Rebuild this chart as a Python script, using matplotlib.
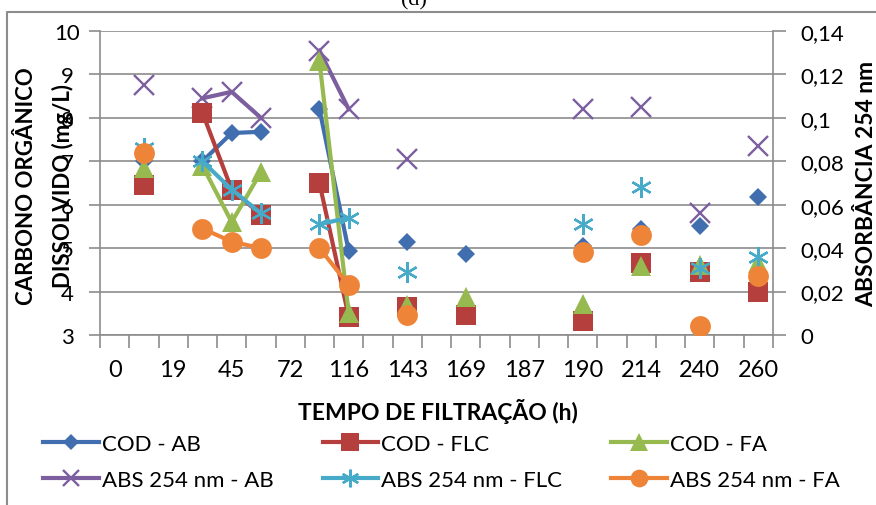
import numpy as np
import matplotlib.pyplot as plt
from matplotlib.lines import Line2D

nan = np.nan

# 23 categories on the x axis, Excel shows a label on every second one
tick_labels = ['0', '19', '45', '72', '116', '143', '169', '187', '190', '214', '240', '260']

cod_ab = [nan, 7.0, nan, 7.0, 7.65, 7.68, nan, 8.2, 4.93, nan, 5.13, nan, 4.86,
          nan, nan, nan, 5.05, nan, 5.44, nan, 5.5, nan, 6.17]
cod_flc = [nan, 6.45, nan, 8.12, 6.35, 5.77, nan, 6.5, 3.42, nan, 3.65, nan, 3.45,
           nan, nan, nan, 3.33, nan, 4.65, nan, 4.45, nan, 4.0]
cod_fa = [nan, 6.85, nan, 6.9, 5.6, 6.75, nan, 9.3, 3.5, nan, 3.7, nan, 3.88,
          nan, nan, nan, 3.72, nan, 4.6, nan, 4.62, nan, 4.65]
abs_ab = [nan, 0.115, nan, 0.109, 0.112, 0.100, nan, 0.131, 0.104, nan, 0.081, nan, nan,
          nan, nan, nan, 0.104, nan, 0.105, nan, 0.056, nan, 0.087]
abs_flc = [nan, 0.086, nan, 0.080, 0.067, 0.056, nan, 0.051, 0.054, nan, 0.029, nan, nan,
           nan, nan, nan, 0.051, nan, 0.068, nan, 0.031, nan, 0.036]
abs_fa = [nan, 0.084, nan, 0.049, 0.043, 0.040, nan, 0.040, 0.023, nan, 0.009, nan, nan,
          nan, nan, nan, 0.038, nan, 0.046, nan, 0.004, nan, 0.027]

plt.rcParams['font.family'] = ['Lato', 'DejaVu Sans']

W, H = 876, 506
gray = '#8C8C8C'

fig = plt.figure(figsize=(W / 100, H / 100), dpi=100)
ax = fig.add_axes([100 / W, 1 - 336 / H, 673 / W, 304 / H])
ax2 = ax.twinx()

x = np.arange(1, len(cod_ab) + 1)
ax.set_xlim(0.5, len(x) + 0.5)
ax.set_ylim(3, 10)
ax2.set_ylim(0, 0.14)

blue, red, green = '#416EAF', '#B53F3C', '#96B950'
purple, aqua, orange = '#7D5FA0', '#46AAC8', '#EE8438'

# (values, label, color, marker, size, edge width, on secondary axis)
series = [
    (abs_ab, 'ABS 254 nm - AB', purple, 'x', 14, 1.7, True),
    (cod_ab, 'COD - AB', blue, 'D', 9.5, 0, False),
    (cod_flc, 'COD - FLC', red, 's', 15, 0, False),
    (cod_fa, 'COD - FA', green, '^', 15, 0, False),
    (abs_flc, 'ABS 254 nm - FLC', aqua, (6, 2, 0), 15, 1.7, True),
    (abs_fa, 'ABS 254 nm - FA', orange, 'o', 15, 0, True),
]

lines = {}
for i, (vals, label, c, m, ms, mew, sec) in enumerate(series):
    tr = ax2.transData if sec else ax.transData
    ln, = ax.plot(x, vals, color=c, lw=3, marker=m, ms=ms, mfc=c, mec=c, mew=mew,
                  transform=tr, label=label, zorder=3 + i)
    lines[label] = ln

# axes styling
for s in ['top', 'right']:
    ax.spines[s].set_visible(False)
for s in ['top', 'left', 'bottom']:
    ax2.spines[s].set_visible(False)
for sp in [ax.spines['left'], ax.spines['bottom'], ax2.spines['right']]:
    sp.set_color(gray)
    sp.set_linewidth(1.2)

ax.yaxis.grid(True, color=gray, lw=1.2)
ax.set_axisbelow(True)

ax.set_yticks(range(3, 11))
ax.tick_params(axis='y', length=8, width=1.2, color=gray, labelsize=16, pad=15.5)
for lbl in ax.get_yticklabels():
    lbl.set_ha('center')

abs_ticks = np.arange(0, 0.141, 0.02)
ax2.set_yticks(abs_ticks)
ax2.set_yticklabels([f'{v:g}'.replace('.', ',') for v in abs_ticks])
ax2.tick_params(axis='y', length=9, width=1.2, color=gray, labelsize=16, pad=10.5)

ax.set_xticks(np.arange(0.5, len(x) + 1, 1))
ax.set_xticklabels([])
ax.set_xticks(x[::2], tick_labels, minor=True)
ax.tick_params(axis='x', which='major', length=9, width=1.2, color=gray)
ax.tick_params(axis='x', which='minor', length=0, labelsize=17, pad=17)

# texts
fig.text(45 / W, 1 - 186 / H, 'CARBONO ORGÂNICO\nDISSOLVIDO (mg/L)', rotation=90,
         ha='center', va='center', ma='center', fontsize=16, fontweight='bold',
         linespacing=1.8)
fig.text(867 / W, 1 - 184 / H, 'ABSORBÂNCIA 254 nm', rotation=90,
         ha='center', va='center', fontsize=16.5, fontweight='bold')
fig.text(438 / W, 1 - 412 / H, 'TEMPO DE FILTRAÇÃO (h)', ha='center', va='center',
         fontsize=16.5, fontweight='bold')
fig.text(414 / W, 1 - 5 / H, '(d)', ha='center', va='baseline',
         family='Liberation Serif', fontsize=16)

# outer chart border
fig.add_artist(Line2D([7 / W, 7 / W, 1], [0, 1 - 13 / H, 1 - 13 / H],
                      color=gray, lw=1.5, transform=fig.transFigure))

order = ['COD - AB', 'ABS 254 nm - AB', 'COD - FLC', 'ABS 254 nm - FLC',
         'COD - FA', 'ABS 254 nm - FA']
fig.legend([lines[k] for k in order], order, ncol=3, loc='upper left',
           bbox_to_anchor=(43 / W, 1 - 435 / H), frameon=False, fontsize=16,
           handlelength=2.5, handletextpad=0.15, columnspacing=2.2,
           labelspacing=0.7, borderpad=0, borderaxespad=0, markerscale=0.85)

fig.savefig('out.png', dpi=100)
